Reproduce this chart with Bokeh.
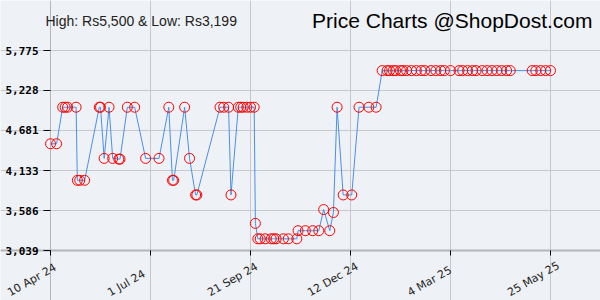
from datetime import datetime
import math
from bokeh.plotting import figure
from bokeh.models import Range1d, FixedTicker, Label, ColumnDataSource, Grid
from bokeh.core.properties import value
from bokeh.embed import file_html
from bokeh.resources import INLINE

# ---- data ----
dates = [
    "2024-04-10", "2024-04-15", "2024-04-20", "2024-04-22", "2024-04-24", "2024-05-01",
    "2024-05-02", "2024-05-04", "2024-05-08", "2024-05-20", "2024-05-21", "2024-05-24",
    "2024-05-28", "2024-05-31", "2024-06-05", "2024-06-06", "2024-06-12", "2024-06-18",
    "2024-06-27", "2024-07-08", "2024-07-16", "2024-07-19", "2024-07-20", "2024-07-29",
    "2024-08-02", "2024-08-07", "2024-08-08", "2024-08-27", "2024-08-30", "2024-09-03",
    "2024-09-05", "2024-09-11", "2024-09-13", "2024-09-15", "2024-09-18", "2024-09-21",
    "2024-09-24", "2024-09-25", "2024-09-27", "2024-09-29", "2024-10-03", "2024-10-08",
    "2024-10-10", "2024-10-12", "2024-10-18", "2024-10-22", "2024-10-29", "2024-10-30",
    "2024-11-05", "2024-11-11", "2024-11-16", "2024-11-20", "2024-11-25", "2024-11-28",
    "2024-12-01", "2024-12-06", "2024-12-13", "2024-12-19", "2024-12-27", "2025-01-02",
    "2025-01-07", "2025-01-11", "2025-01-13", "2025-01-16", "2025-01-18", "2025-01-22",
    "2025-01-24", "2025-01-27", "2025-01-31", "2025-02-04", "2025-02-08", "2025-02-11",
    "2025-02-16", "2025-02-20", "2025-02-24", "2025-02-27", "2025-03-04", "2025-03-11",
    "2025-03-14", "2025-03-18", "2025-03-22", "2025-03-25", "2025-03-30", "2025-04-03",
    "2025-04-07", "2025-04-11", "2025-04-15", "2025-04-19", "2025-04-22", "2025-05-10",
    "2025-05-13", "2025-05-17", "2025-05-21", "2025-05-25",
]
prices = [
    4499, 4499, 4999, 4999, 4999, 4999,
    3999, 3999, 3999, 4999, 4999, 4299,
    4999, 4299, 4289, 4289, 4999, 4999,
    4299, 4299, 4999, 3999, 3999, 4999,
    4299, 3799, 3799, 4999, 4999, 4999,
    3799, 4999, 4999, 4999, 4999, 4999,
    4999, 3410, 3199, 3199, 3199, 3199,
    3199, 3199, 3199, 3199, 3199, 3310,
    3310, 3310, 3310, 3599, 3310, 3559,
    4999, 3799, 3799, 4999, 4999, 4999,
    5500, 5500, 5500, 5500, 5500, 5500,
    5500, 5500, 5500, 5500, 5500, 5500,
    5500, 5500, 5500, 5500, 5500, 5500,
    5500, 5500, 5500, 5500, 5500, 5500,
    5500, 5500, 5500, 5500, 5500, 5500,
    5500, 5500, 5500, 5500,
]
y_ticks = [3039, 3586, 4133, 4681, 5228, 5775]
y_tick_labels = ["3,039", "3,586", "4,133", "4,681", "5,228", "5,775"]
x_tick_dates = ["2024-04-10", "2024-07-01", "2024-09-21", "2024-12-12", "2025-03-04", "2025-05-25"]
x_tick_labels = ["10 Apr 24", "1 Jul 24", "21 Sep 24", "12 Dec 24", "4 Mar 25", "25 May 25"]
title_left = "High: Rs5,500 & Low: Rs3,199"
title_right = "Price Charts @ShopDost.com"

EPOCH = datetime(1970, 1, 1)
def to_ms(s):
    return (datetime.strptime(s, "%Y-%m-%d") - EPOCH).total_seconds() * 1000.0

xs = [datetime.strptime(d, "%Y-%m-%d") for d in dates]
src = ColumnDataSource(dict(x=xs, y=prices))

x_tick_ms = [to_ms(d) for d in x_tick_dates]
x_start, x_end = x_tick_ms[0], x_tick_ms[-1]
y_lo, y_hi = y_ticks[0], y_ticks[-1]
ms_per_px = (x_end - x_start) / 500.0
val_per_px = (y_hi - y_lo) / 200.0

BG = "#eef1f5"
GRID = "#c6c8cc"
AXIS = "#b4b6ba"

# The frame covers the whole 600x300 canvas so that titles and tick labels, drawn
# inside it, are never clipped. The plot area proper is x 50..550, y 50..250.
p = figure(width=600, height=300, x_axis_type="datetime",
           x_axis_location=None, y_axis_location=None,
           x_range=Range1d(x_start - 50 * ms_per_px, x_end + 50 * ms_per_px),
           y_range=Range1d(y_lo - 50 * val_per_px, y_hi + 50 * val_per_px),
           output_backend="svg", toolbar_location=None,
           min_border_left=0, min_border_right=0,
           min_border_top=0, min_border_bottom=0)
p.background_fill_color = BG
p.border_fill_color = BG
p.outline_line_color = None
p.grid.visible = False

# grids
p.add_layout(Grid(dimension=0, ticker=FixedTicker(ticks=x_tick_ms), bounds=(y_lo, y_hi),
                  grid_line_color=GRID))
p.add_layout(Grid(dimension=1, ticker=FixedTicker(ticks=y_ticks), bounds=(x_start, x_end),
                  grid_line_color=GRID))
# axis lines (left and bottom)
p.add_layout(Grid(dimension=0, ticker=FixedTicker(ticks=[x_start]), bounds=(y_lo, y_hi),
                  grid_line_color=AXIS, grid_line_width=1))
p.add_layout(Grid(dimension=1, ticker=FixedTicker(ticks=[y_lo]), bounds=(x_start, x_end),
                  grid_line_color=AXIS, grid_line_width=2))

# left ticks and labels
ytick_src = ColumnDataSource(dict(x=[x_start] * len(y_ticks),
                                  x0=[x_start - 7 * ms_per_px] * len(y_ticks),
                                  y=y_ticks, label=y_tick_labels))
p.segment(x0="x0", y0="y", x1="x", y1="y", source=ytick_src, line_color="#000000", line_width=1)
p.text(x="x", y="y", text="label", source=ytick_src, text_align="right",
       text_baseline="middle", x_offset=-12, y_offset=0,
       text_font=value("DejaVu Sans Mono"), text_font_style="bold",
       text_font_size="11px", text_color="#000000")

# bottom ticks and rotated labels
xtick_src = ColumnDataSource(dict(x=x_tick_ms, y=[y_lo] * len(x_tick_ms),
                                  y1=[y_lo - 5 * val_per_px] * len(x_tick_ms),
                                  label=x_tick_labels))
p.segment(x0="x", y0="y", x1="x", y1="y1", source=xtick_src, line_color="#000000", line_width=1)
p.text(x="x", y="y", text="label", source=xtick_src, angle=math.pi / 6,
       text_align="left", text_baseline="alphabetic", x_offset=-42, y_offset=43,
       text_font=value("DejaVu Sans"), text_font_size="11px", text_color="#222222")

p.line("x", "y", source=src, line_color="#4a90e8", line_width=1)
p.scatter("x", "y", source=src, marker="circle", size=10, fill_color=None,
          line_color="#ff0000", line_width=1)

# titles: screen units relative to the plot frame (origin at frame bottom-left)
p.add_layout(Label(x=45, y=280, x_units="screen", y_units="screen", text=title_left,
                   text_font="Liberation Sans", text_font_size="14px", text_color="#222222",
                   text_baseline="middle", text_align="left"))
p.add_layout(Label(x=592, y=280, x_units="screen", y_units="screen", text=title_right,
                   text_font="Liberation Sans", text_font_size="21px", text_color="#000000",
                   text_baseline="middle", text_align="right"))

open("out.html", "w").write(file_html(p, INLINE))
